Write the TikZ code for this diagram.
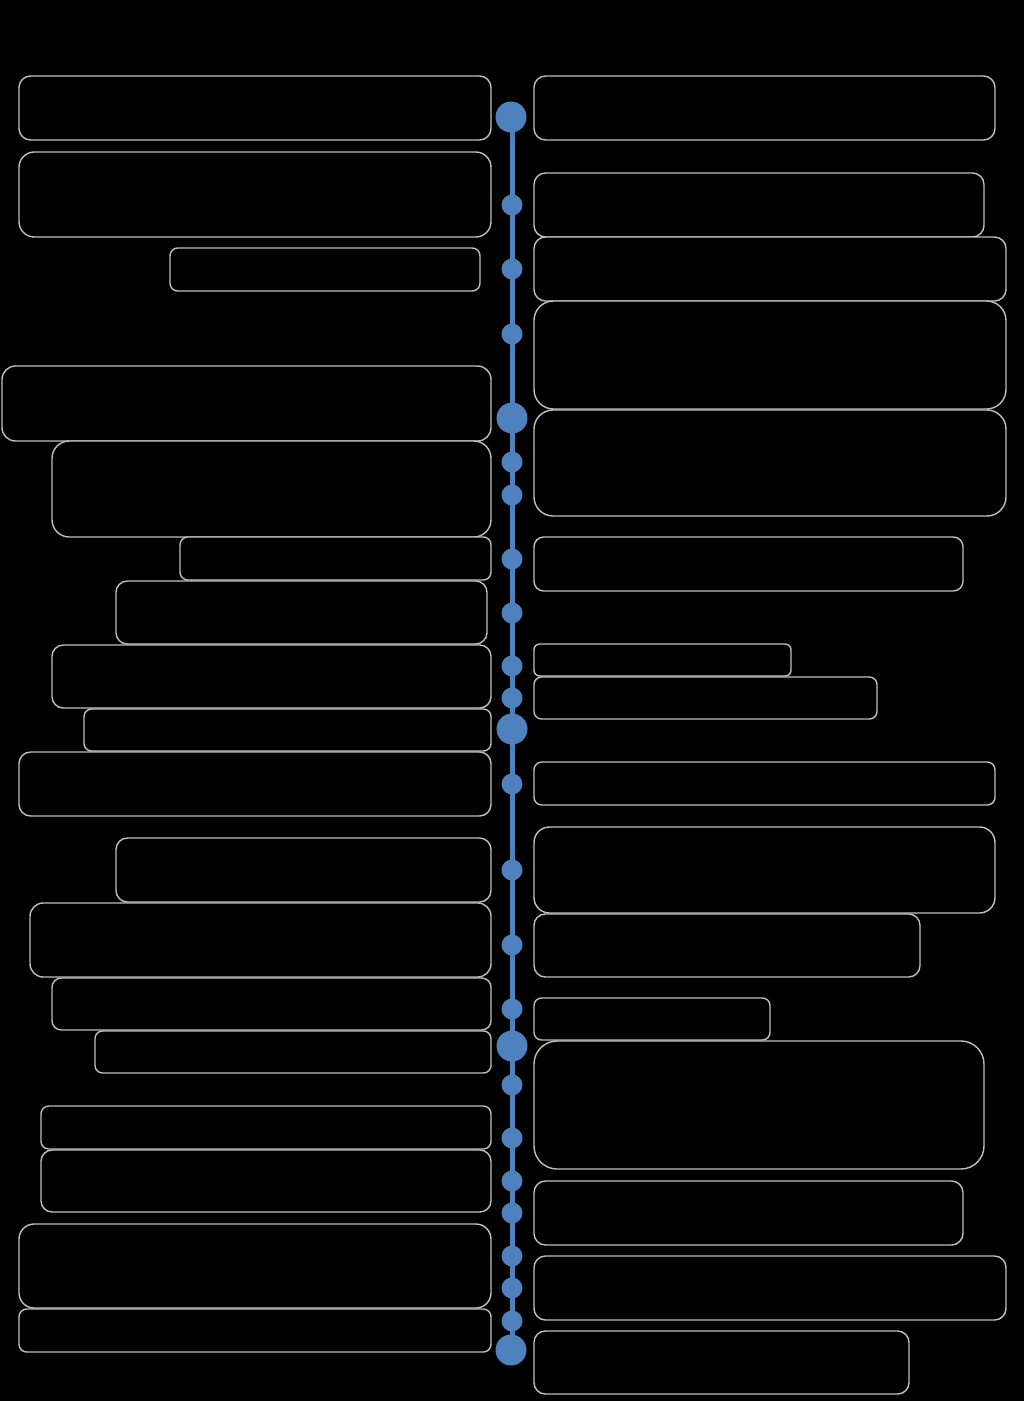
\documentclass[tikz,border=0pt]{standalone}
\usepackage{tikz}
\definecolor{tlblue}{RGB}{79,129,189}
\definecolor{boxgray}{RGB}{192,192,192}
\tikzset{
  boxst/.style={draw=boxgray, line width=1.4pt, fill=black, inner sep=0pt, outer sep=0pt},
  bigdot/.style={circle, fill=tlblue, inner sep=0pt, minimum size=31pt},
  smalldot/.style={circle, fill=tlblue, inner sep=0pt, minimum size=21pt},
  tline/.style={draw=tlblue, line width=5pt}
}
\newcommand\mybox[5]{%
  \pgfmathsetmacro\bw{#4-#2}%
  \pgfmathsetmacro\bh{#5-#3}%
  \pgfmathsetmacro\br{min(0.18*\bh,24)}%
  \node[boxst, minimum width=\bw pt, minimum height=\bh pt, rounded corners=\br pt] (#1) at ({(#2+#4)/2},{(#3+#5)/2}) {};%
}
\begin{document}
\begin{tikzpicture}[x=1pt,y=-1pt]
\fill[black] (0,0) rectangle (1024,1401);
\useasboundingbox (0,0) rectangle (1024,1401);
% left boxes
\mybox{L1}{19}{76}{491}{140}
\mybox{L2}{19}{152}{491}{237}
\mybox{L3}{170}{248}{480}{291}
\mybox{L4}{2}{366}{491}{441}
\mybox{L5}{52}{441}{491}{537}
\mybox{L6}{180}{537}{491}{580}
\mybox{L7}{116}{581}{487}{644}
\mybox{L8}{52}{645}{491}{708}
\mybox{L9}{84}{709}{491}{751}
\mybox{L10}{19}{752}{491}{816}
\mybox{L11}{116}{838}{491}{902}
\mybox{L12}{30}{903}{491}{977}
\mybox{L13}{52}{978}{491}{1030}
\mybox{L14}{95}{1031}{491}{1073}
\mybox{L15}{41}{1106}{491}{1149}
\mybox{L16}{41}{1150}{491}{1212}
\mybox{L17}{19}{1224}{491}{1308}
\mybox{L18}{19}{1309}{491}{1352}
% right boxes
\mybox{R1}{534}{76}{995}{140}
\mybox{R2}{534}{173}{984}{237}
\mybox{R3}{534}{237}{1006}{301}
\mybox{R4}{534}{301}{1006}{409}
\mybox{R5}{534}{410}{1006}{516}
\mybox{R6}{534}{537}{963}{591}
\mybox{R7}{534}{644}{791}{676}
\mybox{R8}{534}{677}{877}{719}
\mybox{R9}{534}{762}{995}{805}
\mybox{R10}{534}{827}{995}{913}
\mybox{R11}{534}{914}{920}{977}
\mybox{R12}{534}{998}{770}{1040}
\mybox{R13}{534}{1041}{984}{1169}
\mybox{R14}{534}{1181}{963}{1245}
\mybox{R15}{534}{1256}{1006}{1320}
\mybox{R16}{534}{1331}{909}{1394}
% timeline anchors
\coordinate (top) at (512,117);
\coordinate (bot) at (512,1350);
\draw[tline] (top) -- (bot);
% dots
\node[bigdot] (B1) at (511,117) {};
\node[bigdot] (B2) at (512,418) {};
\node[bigdot] (B3) at (512,729) {};
\node[bigdot] (B4) at (512,1046) {};
\node[bigdot] (B5) at (511,1350) {};
\foreach \y [count=\i] in {205,269,334,462,495,559,613,666,698,784,870,945,1009,1085,1138,1181,1213,1256,1288,1321}
  \node[smalldot] (S\i) at (512,\y) {};
\end{tikzpicture}
\end{document}
